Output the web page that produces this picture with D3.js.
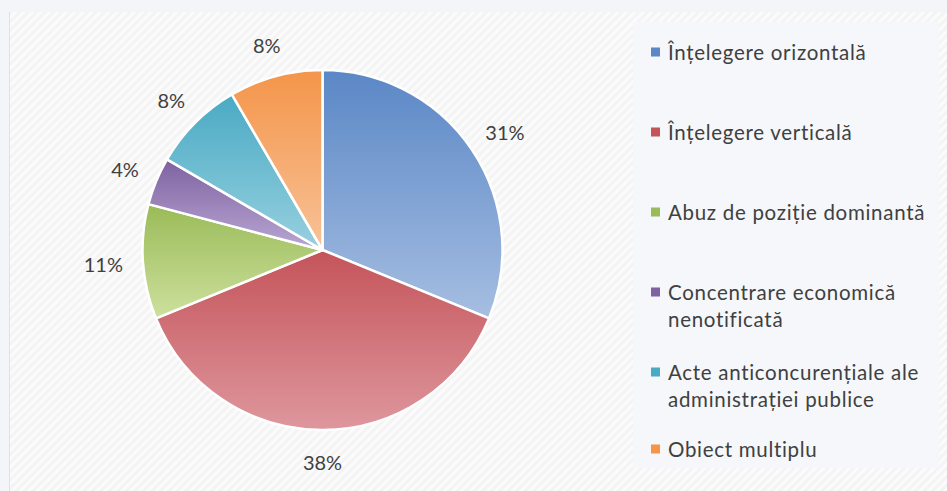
<!DOCTYPE html>
<html>
<head>
<meta charset="utf-8">
<script src="https://cdn.jsdelivr.net/npm/d3@7"></script>
<style>
  html, body { margin: 0; padding: 0; background: #f3f5f9; }
  svg { display: block; }
  text { font-family: Lato, "Open Sans", sans-serif; fill: #404040; }
</style>
</head>
<body>
<svg id="chart" width="947" height="491"></svg>
<script>
// ---- data ----
const categories = [
  "Înțelegere orizontală",
  "Înțelegere verticală",
  "Abuz de poziție dominantă",
  "Concentrare economică nenotificată",
  "Acte anticoncurențiale ale administrației publice",
  "Obiect multiplu"
];
const legendLines = [
  ["Înțelegere orizontală"],
  ["Înțelegere verticală"],
  ["Abuz de poziție dominantă"],
  ["Concentrare economică", "nenotificată"],
  ["Acte anticoncurențiale ale", "administrației publice"],
  ["Obiect multiplu"]
];
const shares = [31.2, 37.6, 10.3, 4.3, 8.2, 8.4];
const pctLabels = ["31%", "38%", "11%", "4%", "8%", "8%"];
const colorsTop = ["#5a87c6", "#c4545a", "#9abb58", "#7e62a1", "#4aaac4", "#f4954a"];
const colorsBottom = ["#a6bee1", "#de979d", "#cde09d", "#b9a7d3", "#97d0df", "#f8c298"];

const svg = d3.select("#chart");
const W = 947, H = 491;

// background hatch
const defs = svg.append("defs");
const pat = defs.append("pattern").attr("id", "hatch").attr("patternUnits", "userSpaceOnUse")
  .attr("width", 6).attr("height", 6).attr("patternTransform", "rotate(45)");
pat.append("rect").attr("width", 6).attr("height", 6).attr("fill", "#f4f4f4");
pat.append("rect").attr("width", 3).attr("height", 6).attr("fill", "#fbfbfb");

svg.append("rect").attr("x", 9).attr("y", 12).attr("width", W - 9).attr("height", H - 12)
  .attr("fill", "url(#hatch)");
svg.append("line").attr("x1", 9.5).attr("x2", 9.5).attr("y1", 12).attr("y2", H)
  .attr("stroke", "#e2e2e2").attr("stroke-width", 1);
// legend panel
svg.append("rect").attr("x", 633).attr("y", 22).attr("width", 306).attr("height", 446)
  .attr("fill", "#f5f7fa");

// gradients
colorsTop.forEach((c, i) => {
  const g = defs.append("linearGradient").attr("id", "g" + i)
    .attr("x1", 0).attr("y1", 0).attr("x2", 0).attr("y2", 1);
  g.append("stop").attr("offset", "0%").attr("stop-color", c);
  g.append("stop").attr("offset", "100%").attr("stop-color", colorsBottom[i]);
});

// pie
const cx = 322.5, cy = 250, R = 180;
const pie = d3.pie().sort(null).value(d => d);
const arcs = pie(shares);
const arc = d3.arc().innerRadius(0).outerRadius(R);
const gap = 20;
const labelArc = d3.arc().innerRadius(R + gap).outerRadius(R + gap);

const gPie = svg.append("g").attr("transform", `translate(${cx},${cy})`);
gPie.selectAll("path").data(arcs).join("path")
  .attr("d", arc)
  .attr("fill", (d, i) => `url(#g${i})`)
  .attr("stroke", "#ffffff")
  .attr("stroke-width", 2.5)
  .attr("stroke-linejoin", "round");

const lbls = gPie.selectAll("text.lbl").data(arcs).join("text")
  .attr("class", "lbl")
  .attr("text-anchor", "middle")
  .attr("dominant-baseline", "central")
  .style("font-size", "20px")
  .text((d, i) => pctLabels[i]);
// place label box just outside the arc (outside-end style)
lbls.attr("transform", function(d) {
  const bb = this.getBBox();
  const a = (d.startAngle + d.endAngle) / 2;
  const ux = Math.sin(a), uy = -Math.cos(a);
  const [px, py] = labelArc.centroid(d);
  return `translate(${px + ux * bb.width / 2},${py + uy * bb.height / 2})`;
});

// legend
const legendY = [52, 132, 212, 292, 372, 449];
const gLeg = svg.append("g");
categories.forEach((c, i) => {
  const y = legendY[i];
  gLeg.append("rect").attr("x", 651).attr("y", y - 4.5).attr("width", 9).attr("height", 9)
    .attr("fill", colorsTop[i]);
  const t = gLeg.append("text").attr("x", 668).attr("y", y)
    .attr("dominant-baseline", "central")
    .style("font-size", "20.5px").style("letter-spacing", "0.7px");
  legendLines[i].forEach((ln, j) => {
    t.append("tspan").attr("x", 668).attr("dy", j === 0 ? 0 : 27).text(ln);
  });
});
</script>
</body>
</html>
